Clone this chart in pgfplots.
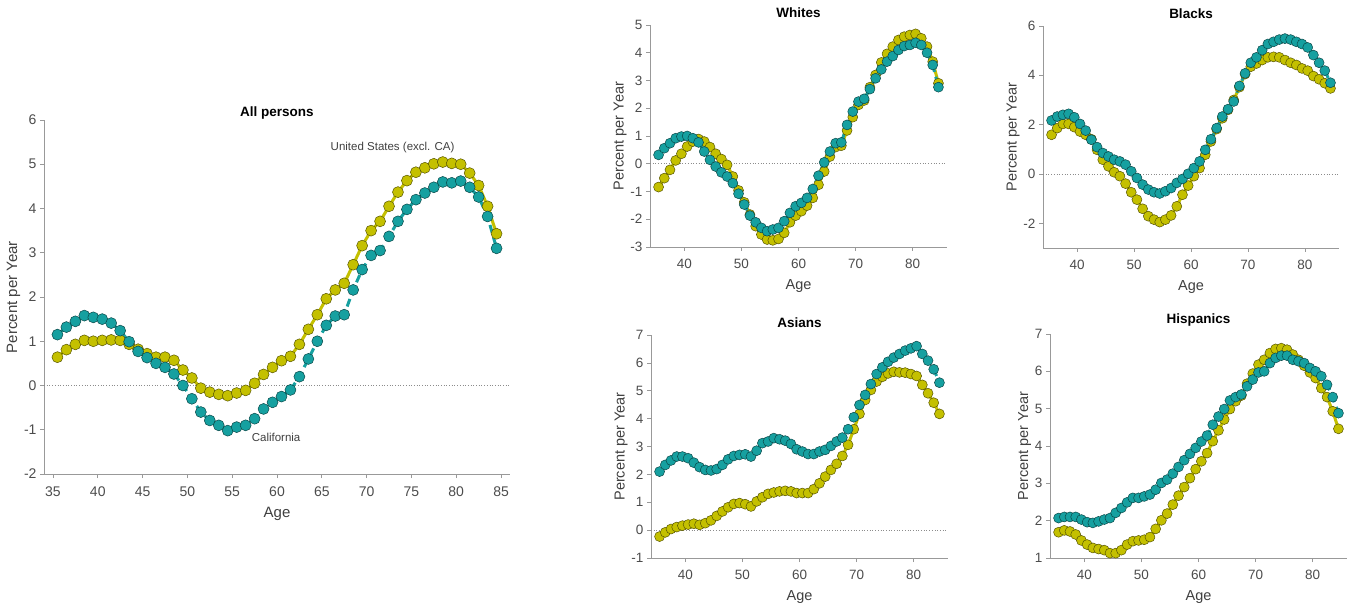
\documentclass[border=0pt]{standalone}
\usepackage{pgfplots}
\pgfplotsset{compat=1.18}
\usepackage{pgfplotstable}
\usepackage{fontspec}
\setmainfont{Liberation Sans}
\definecolor{olv}{RGB}{196,192,0}
\definecolor{tl}{RGB}{22,160,160}

\pgfplotstableread{
age us ca
35.5 0.64 1.15
36.5 0.81 1.32
37.5 0.93 1.45
38.5 1.02 1.58
39.5 1.00 1.54
40.5 1.02 1.50
41.5 1.03 1.41
42.5 1.02 1.24
43.5 0.93 0.99
44.5 0.82 0.77
45.5 0.72 0.63
46.5 0.64 0.50
47.5 0.64 0.41
48.5 0.57 0.26
49.5 0.35 0.00
50.5 0.17 -0.30
51.5 -0.06 -0.60
52.5 -0.15 -0.79
53.5 -0.20 -0.90
54.5 -0.23 -1.02
55.5 -0.17 -0.94
56.5 -0.11 -0.90
57.5 0.05 -0.75
58.5 0.25 -0.53
59.5 0.41 -0.38
60.5 0.56 -0.25
61.5 0.66 -0.10
62.5 0.93 0.20
63.5 1.27 0.60
64.5 1.60 1.00
65.5 1.96 1.36
66.5 2.16 1.57
67.5 2.31 1.60
68.5 2.73 2.16
69.5 3.16 2.62
70.5 3.50 2.94
71.5 3.71 3.05
72.5 4.05 3.37
73.5 4.37 3.71
74.5 4.63 3.98
75.5 4.82 4.20
76.5 4.92 4.35
77.5 5.01 4.48
78.5 5.05 4.60
79.5 5.02 4.58
80.5 5.00 4.62
81.5 4.80 4.48
82.5 4.52 4.26
83.5 4.05 3.82
84.5 3.43 3.10
}\allp

\pgfplotstableread{
age us ca
35.5 -0.84 0.32
36.5 -0.52 0.56
37.5 -0.22 0.74
38.5 0.12 0.92
39.5 0.36 0.98
40.5 0.62 1.00
41.5 0.80 0.92
42.5 0.89 0.77
43.5 0.80 0.44
44.5 0.60 0.14
45.5 0.36 -0.10
46.5 0.17 -0.31
47.5 -0.04 -0.46
48.5 -0.46 -0.70
49.5 -0.96 -1.08
50.5 -1.39 -1.47
51.5 -1.83 -1.87
52.5 -2.25 -2.11
53.5 -2.55 -2.31
54.5 -2.73 -2.43
55.5 -2.76 -2.37
56.5 -2.71 -2.31
57.5 -2.49 -2.07
58.5 -2.11 -1.77
59.5 -1.87 -1.53
60.5 -1.71 -1.41
61.5 -1.51 -1.23
62.5 -1.23 -0.91
63.5 -0.76 -0.43
64.5 -0.28 0.05
65.5 0.26 0.44
66.5 0.60 0.74
67.5 0.65 0.77
68.5 1.20 1.40
69.5 1.68 1.88
70.5 2.12 2.24
71.5 2.28 2.34
72.5 2.76 2.69
73.5 3.20 3.08
74.5 3.65 3.40
75.5 3.96 3.68
76.5 4.22 3.88
77.5 4.46 4.10
78.5 4.58 4.24
79.5 4.64 4.28
80.5 4.68 4.36
81.5 4.52 4.28
82.5 4.22 4.00
83.5 3.68 3.56
84.5 2.90 2.76
}\whites

\pgfplotstableread{
age us ca
35.5 1.59 2.17
36.5 1.86 2.33
37.5 2.03 2.40
38.5 2.03 2.44
39.5 1.90 2.30
40.5 1.72 2.03
41.5 1.59 1.76
42.5 1.41 1.39
43.5 0.98 1.09
44.5 0.58 0.85
45.5 0.31 0.71
46.5 0.07 0.58
47.5 -0.09 0.51
48.5 -0.39 0.38
49.5 -0.74 0.11
50.5 -1.04 -0.16
51.5 -1.41 -0.43
52.5 -1.71 -0.63
53.5 -1.85 -0.74
54.5 -1.95 -0.79
55.5 -1.85 -0.70
56.5 -1.68 -0.57
57.5 -1.31 -0.36
58.5 -0.84 -0.20
59.5 -0.47 0.01
60.5 -0.09 0.24
61.5 0.24 0.51
62.5 0.78 0.98
63.5 1.32 1.41
64.5 1.82 1.86
65.5 2.26 2.33
66.5 2.60 2.63
67.5 3.00 2.94
68.5 3.52 3.57
69.5 4.05 4.08
70.5 4.35 4.51
71.5 4.48 4.73
72.5 4.62 5.02
73.5 4.73 5.27
74.5 4.75 5.36
75.5 4.73 5.45
76.5 4.62 5.49
77.5 4.51 5.45
78.5 4.42 5.36
79.5 4.28 5.27
80.5 4.19 5.13
81.5 3.97 4.82
82.5 3.84 4.51
83.5 3.68 4.19
84.5 3.47 3.70
}\blacks

\pgfplotstableread{
age us ca
35.5 -0.23 2.10
36.5 -0.08 2.34
37.5 0.04 2.50
38.5 0.11 2.64
39.5 0.16 2.64
40.5 0.20 2.58
41.5 0.23 2.42
42.5 0.19 2.26
43.5 0.25 2.16
44.5 0.35 2.14
45.5 0.51 2.19
46.5 0.67 2.34
47.5 0.82 2.54
48.5 0.94 2.66
49.5 0.97 2.70
50.5 0.93 2.72
51.5 0.85 2.64
52.5 1.03 2.85
53.5 1.18 3.12
54.5 1.30 3.18
55.5 1.35 3.30
56.5 1.39 3.26
57.5 1.41 3.21
58.5 1.39 3.09
59.5 1.33 2.90
60.5 1.33 2.82
61.5 1.33 2.73
62.5 1.47 2.73
63.5 1.68 2.82
64.5 1.92 2.88
65.5 2.16 3.02
66.5 2.38 3.18
67.5 2.66 3.32
68.5 3.06 3.62
69.5 3.62 4.05
70.5 4.17 4.49
71.5 4.67 4.85
72.5 5.03 5.24
73.5 5.33 5.60
74.5 5.50 5.84
75.5 5.62 6.04
76.5 5.68 6.19
77.5 5.66 6.32
78.5 5.65 6.44
79.5 5.60 6.52
80.5 5.53 6.60
81.5 5.21 6.32
82.5 4.91 6.08
83.5 4.57 5.77
84.5 4.17 5.29
}\asians

\pgfplotstableread{
age us ca
35.5 1.69 2.07
36.5 1.74 2.10
37.5 1.71 2.10
38.5 1.63 2.10
39.5 1.47 2.03
40.5 1.36 1.96
41.5 1.27 1.94
42.5 1.24 1.98
43.5 1.21 2.03
44.5 1.13 2.07
45.5 1.13 2.21
46.5 1.21 2.34
47.5 1.36 2.49
48.5 1.45 2.61
49.5 1.47 2.61
50.5 1.49 2.65
51.5 1.56 2.70
52.5 1.78 2.83
53.5 2.01 3.01
54.5 2.19 3.10
55.5 2.43 3.26
56.5 2.67 3.44
57.5 2.90 3.62
58.5 3.14 3.79
59.5 3.38 3.95
60.5 3.59 4.12
61.5 3.81 4.28
62.5 4.13 4.57
63.5 4.42 4.79
64.5 4.71 4.99
65.5 4.99 5.22
66.5 5.20 5.31
67.5 5.35 5.38
68.5 5.67 5.60
69.5 5.94 5.78
70.5 6.18 5.97
71.5 6.31 6.00
72.5 6.49 6.22
73.5 6.60 6.36
74.5 6.62 6.42
75.5 6.58 6.42
76.5 6.45 6.31
77.5 6.31 6.27
78.5 6.15 6.22
79.5 5.97 6.09
80.5 5.82 6.00
81.5 5.55 5.87
82.5 5.31 5.64
83.5 4.93 5.31
84.5 4.46 4.88
}\hisp

\pgfplotsset{
  base/.style={
    scale only axis,
    axis x line*=bottom, axis y line*=left,
    xmin=34, xmax=86,
    tick align=outside,
    axis line style={black!40, line width=0.7pt},
    major tick style={black!40, line width=0.7pt},
    major tick length=4pt,
    tick label style={text=black!70, font=\fontsize{13.5}{15}\selectfont},
    xticklabel style={yshift=-5pt},
    label style={text=black!75, font=\fontsize{14.5}{16}\selectfont},
    title style={font=\fontsize{13.5}{16}\selectfont\bfseries, text=black, yshift=-2pt},
    xlabel=Age, ylabel={Percent per Year},
    /pgf/number format/assume math mode=true,
    xlabel style={yshift=-4pt},
    ylabel style={yshift=-3pt},
  },
  usser/.style={color=olv, line width=3pt, mark=*, mark size=#1,
    mark options={solid, fill=olv, draw=olv!45!black, line width=0.5pt}},
  caser/.style={color=tl, line width=3pt, dash pattern=on 8pt off 5pt, mark=*, mark size=#1,
    mark options={solid, fill=tl, draw=tl!45!black, line width=0.5pt}},
  zline/.style={black!45, dotted, line width=0.7pt},
}

\begin{document}
\begin{tikzpicture}
\useasboundingbox (0,0) rectangle (1348pt,613pt);

% All persons
\begin{axis}[base, at={(44pt,139pt)}, anchor=south west,
  width=466pt, height=354pt,
  ymin=-2, ymax=6, ytick={-2,-1,0,1,2,3,4,5,6},
  xtick={35,40,45,50,55,60,65,70,75,80,85},
  tick label style={font=\fontsize{14}{15}\selectfont},
  label style={font=\fontsize{15}{16}\selectfont},
  title style={yshift=-7pt},
  title={All persons}]
\addplot[zline] coordinates {(34,0) (86,0)};
\addplot[usser=5.5pt] table[x=age, y=us] {\allp};
\addplot[caser=5.5pt] table[x=age, y=ca] {\allp};
\node[font=\fontsize{11.5}{13}\selectfont, text=black!75] at (axis cs:72.9,5.38) {United States (excl. CA)};
\node[font=\fontsize{11.5}{13}\selectfont, text=black!75] at (axis cs:59.9,-1.18) {California};
\end{axis}

% Whites
\begin{axis}[base, at={(650pt,366pt)}, anchor=south west,
  width=297pt, height=222pt,
  ymin=-3, ymax=5, ytick={-3,-2,-1,0,1,2,3,4,5},
  xtick={40,50,60,70,80}, title={Whites}]
\addplot[zline] coordinates {(34,0) (86,0)};
\addplot[usser=5pt] table[x=age, y=us] {\whites};
\addplot[caser=5pt] table[x=age, y=ca] {\whites};
\end{axis}

% Blacks
\begin{axis}[base, at={(1043pt,365pt)}, anchor=south west,
  width=296pt, height=222pt,
  ymin=-3, ymax=6, ytick={-2,0,2,4,6},
  xtick={40,50,60,70,80}, title={Blacks}]
\addplot[zline] coordinates {(34,0) (86,0)};
\addplot[usser=5pt] table[x=age, y=us] {\blacks};
\addplot[caser=5pt] table[x=age, y=ca] {\blacks};
\end{axis}

% Asians
\begin{axis}[base, at={(651pt,55pt)}, anchor=south west,
  width=297pt, height=223pt,
  ymin=-1, ymax=7, ytick={-1,0,1,2,3,4,5,6,7},
  xtick={40,50,60,70,80}, title={Asians}]
\addplot[zline] coordinates {(34,0) (86,0)};
\addplot[usser=5pt] table[x=age, y=us] {\asians};
\addplot[caser=5pt] table[x=age, y=ca] {\asians};
\end{axis}

% Hispanics
\begin{axis}[base, at={(1050pt,55pt)}, anchor=south west,
  width=297pt, height=224pt,
  ymin=1, ymax=7, ytick={1,2,3,4,5,6,7},
  xtick={40,50,60,70,80}, title={Hispanics}]
\addplot[usser=5pt] table[x=age, y=us] {\hisp};
\addplot[caser=5pt] table[x=age, y=ca] {\hisp};
\end{axis}
\end{tikzpicture}
\end{document}
